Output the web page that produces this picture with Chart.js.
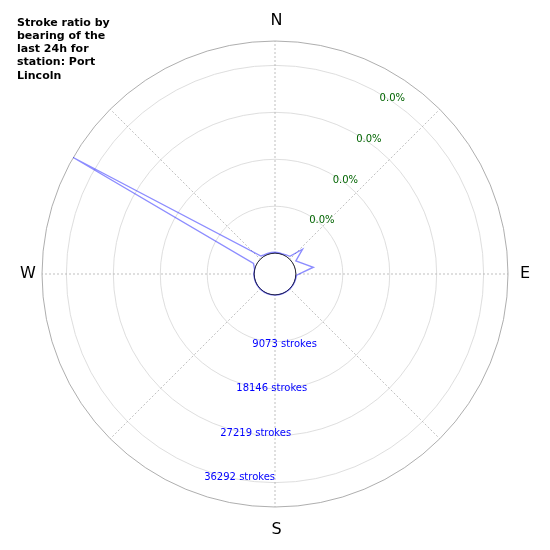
<!DOCTYPE html>
<html>
<head>
<meta charset="utf-8">
<script src="https://cdn.jsdelivr.net/npm/chart.js@4/dist/chart.umd.min.js"></script>
<style>
  body { margin: 0; background: #fff; }
  #wrap { position: relative; width: 550px; height: 550px; }
  #title {
    position: absolute; left: 17px; top: 15.5px;
    font: bold 11px "DejaVu Sans", sans-serif; line-height: 13.3px; color: #000;
  }
</style>
</head>
<body>
<div id="wrap">
  <canvas id="mycanvas" width="550" height="550"></canvas>
  <div id="title">Stroke ratio by<br>bearing of the<br>last 24h for<br>station: Port<br>Lincoln</div>
</div>
<script>
// bearings (degrees from north) that have counts, and stroke counts there
var bearings = [0, 10, 20, 30, 40, 48, 58, 80, 93, 100, 110, 120, 130, 140, 150, 160, 170, 180,
                190, 200, 210, 220, 230, 240, 250, 260, 270, 283, 296, 300, 322, 330, 340, 350];
var strokes  = [180, 150, 130, 250, 450, 3130, 730, 3500, 170, 100, 80, 60, 50, 50, 50, 50, 60, 60,
                70, 60, 60, 50, 50, 50, 50, 60, 80, 30, 600, 41000, 390, 220, 200, 190];

var rMin = -4019;   // radial origin offset (leaves the hole in the middle)
var rMax = 41000;

var tickValues  = [9073, 18146, 27219, 36292];
var tickStrokes = ['9073 strokes', '18146 strokes', '27219 strokes', '36292 strokes'];
var tickPercent = ['0.0%', '0.0%', '0.0%', '0.0%'];

var compass = ['N', 'E', 'S', 'W'];
var compassBearings = [0, 90, 180, 270];

// one category per degree; bearings with no count are left as gaps
var labels = [];
var values = [];
for (var b = 0; b < 360; b++) {
	labels.push(String(b));
	values.push(null);
}
for (var i in bearings) {
	values[bearings[i]] = strokes[i];
}

function holeOutline(chart, fill) {
	var s = chart.scales.r;
	var ctx = chart.ctx;
	ctx.save();
	ctx.beginPath();
	if (fill) {
		ctx.fillStyle = '#fff';
		ctx.arc(s.xCenter, s.yCenter, s.getDistanceFromCenterForValue(0) - 0.6, 0, Math.PI * 2);
		ctx.fill();
	} else {
		ctx.strokeStyle = 'rgba(20, 20, 40, 0.75)';
		ctx.lineWidth = 0.8;
		ctx.arc(s.xCenter, s.yCenter, s.getDistanceFromCenterForValue(0), 0, Math.PI * 2);
		ctx.stroke();
	}
	ctx.restore();
}

var polarText = {
	id: 'polarText',
	beforeDatasetsDraw: function(chart) {
		holeOutline(chart, true);
	},
	afterDatasetsDraw: function(chart) {
		holeOutline(chart, false);
	},
	afterDraw: function(chart) {
		var s = chart.scales.r;
		var ctx = chart.ctx;
		ctx.save();
		ctx.textBaseline = 'middle';

		ctx.font = '16px "DejaVu Sans"';
		ctx.fillStyle = '#000';
		ctx.textAlign = 'center';
		var pads = [20.5, 15.5, 22.5, 15.5];
		for (var i in compass) {
			var p = s.getPointPosition(compassBearings[i], s.drawingArea + pads[i]);
			ctx.fillText(compass[i], p.x + 1.5, p.y);
		}

		ctx.font = '10px "DejaVu Sans"';
		ctx.textAlign = 'left';
		for (var j in tickValues) {
			var q = s.getPointPositionForValue(200, tickValues[j]);
			ctx.fillStyle = '#0000ff';
			ctx.fillText(tickStrokes[j], q.x + 0.5, q.y + 7);
			var g = s.getPointPositionForValue(30, tickValues[j]);
			ctx.fillStyle = '#006400';
			ctx.fillText(tickPercent[j], g.x + 0.3, g.y + 5.5);
		}
		ctx.restore();
	}
};

var ctx = document.getElementById('mycanvas');

var radarGraph = new Chart(ctx, {
	type: 'radar',
	data: {
		labels: labels,
		datasets: [{
			label: 'Strokes',
			data: values,
			borderColor: 'rgba(0, 0, 255, 0.45)',
			borderWidth: 1.4,
			fill: false,
			tension: 0,
			spanGaps: true,
			pointRadius: 0,
			pointHoverRadius: 0
		}]
	},
	options: {
		responsive: false,
		animation: false,
		layout: { padding: { left: 42, right: 42, top: 41, bottom: 42 } },
		plugins: {
			legend: { display: false },
			tooltip: { enabled: false },
			title: { display: false }
		},
		scales: {
			r: {
				min: rMin,
				max: rMax,
				afterBuildTicks: function(scale) {
					var t = [rMin, 0].concat(tickValues, [rMax]);
					scale.ticks = t.map(function(v) { return { value: v }; });
				},
				ticks: { display: false },
				pointLabels: { display: false },
				grid: {
					circular: true,
					lineWidth: 0.8,
					color: function(c) {
						var v = c.tick ? c.tick.value : null;
						if (v === rMin) return 'rgba(0,0,0,0)';
						if (v === 0) return '#222';
						if (v === rMax) return '#999';
						return '#d6d6d6';
					}
				},
				angleLines: {
					display: true,
					color: '#b0b0b0',
					borderDash: [2, 2],
					lineWidth: function(c) {
						return c.index % 45 === 0 ? 0.8 : 0;
					}
				}
			}
		}
	},
	plugins: [polarText]
});
</script>
</body>
</html>
